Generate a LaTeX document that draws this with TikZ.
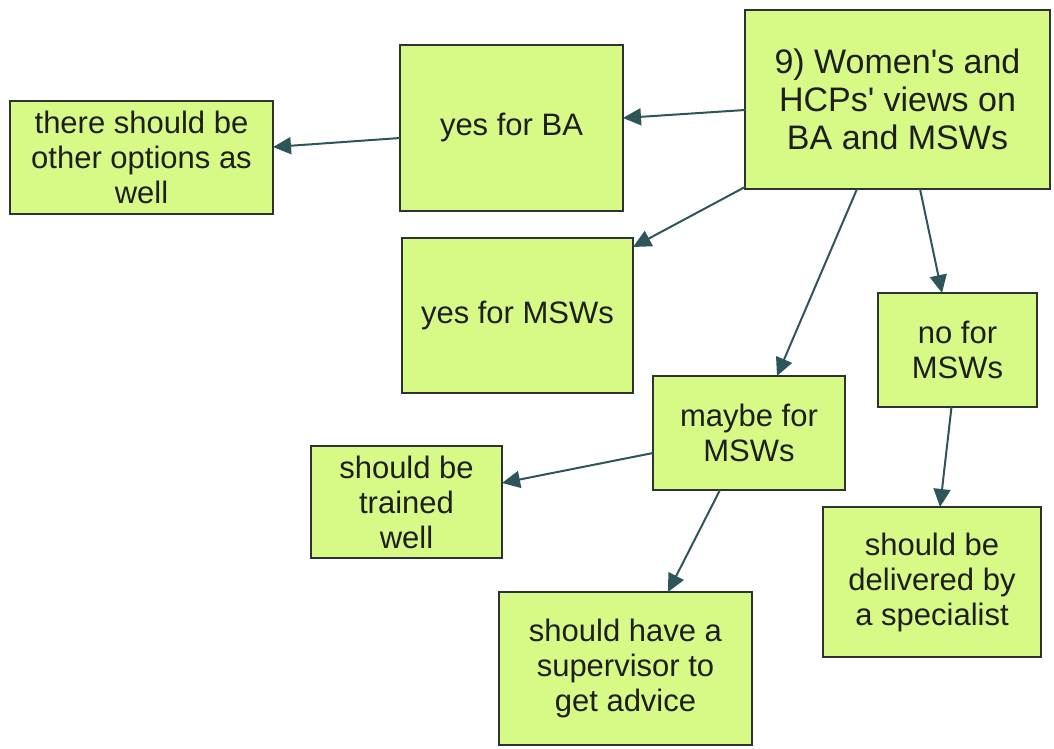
\documentclass[tikz,border=0pt]{standalone}
\usepackage{fontspec}
\setmainfont{Liberation Sans}
\usetikzlibrary{arrows.meta,positioning}
\definecolor{boxfill}{RGB}{215,250,135}
\definecolor{boxline}{RGB}{45,50,50}
\definecolor{linkcol}{RGB}{45,85,90}
\definecolor{txtcol}{RGB}{30,30,30}
\newcommand{\apo}{\textquotesingle}
\tikzset{
  box/.style={draw=boxline, fill=boxfill, line width=1.8pt, rectangle,
    align=center, inner sep=0pt, outer sep=0pt, text=txtcol,
    font=\fontsize{31}{35}\selectfont},
  rootbox/.style={box, font=\fontsize{34}{38}\selectfont},
  link/.style={draw=linkcol, line width=2pt,
    -{Triangle[length=18pt,width=17pt]}}
}
\begin{document}
\begin{tikzpicture}[x=1pt,y=-1pt]
\useasboundingbox (0,0) rectangle (1054,749);

% boxes
\node[rootbox, minimum width=305pt, minimum height=179pt] (root) at (897.5,99.5)
  {9) Women\apo s and\\HCPs\apo\ views on\\BA and MSWs};
\node[box, minimum width=223pt, minimum height=166pt] (yesba) at (511.5,128) {yes for BA};
\node[box, minimum width=263pt, minimum height=113pt] (other) at (141.5,157.5)
  {there should be\\other options as\\well};
\node[box, minimum width=231pt, minimum height=155pt] (yesmsw) at (517.5,315.5) {yes for MSWs};
\node[box, minimum width=159pt, minimum height=114pt] (nomsw) at (957.5,350) {no for\\MSWs};
\node[box, minimum width=192pt, minimum height=114pt] (maybe) at (749,433) {maybe for\\MSWs};
\node[box, minimum width=191pt, minimum height=112pt] (trained) at (406.5,502)
  {should be\\trained\\well};
\node[box, minimum width=218pt, minimum height=150pt] (special) at (932,582)
  {should be\\delivered by\\a specialist};
\node[box, minimum width=253pt, minimum height=153pt] (superv) at (625.5,668.5)
  {should have a\\supervisor to\\get advice};

% connectors
\draw[link] ([yshift=-10.5pt]root.west) -- ([yshift=10pt]yesba.east);
\draw[link] ([yshift=-10pt]yesba.west) -- ([yshift=10.5pt]other.east);
\draw[link] ([yshift=2pt]root.south west) -- ([yshift=-9pt]yesmsw.north east);
\draw[link] ([xshift=-40.5pt]root.south) -- ([xshift=28pt]maybe.north);
\draw[link] ([xshift=22.5pt]root.south) -- ([xshift=-15.5pt]nomsw.north);
\draw[link] ([yshift=-20pt]maybe.west) -- ([yshift=19pt]trained.east);
\draw[link] ([xshift=-29pt]maybe.south) -- ([xshift=42.5pt]superv.north);
\draw[link] ([xshift=-6pt]nomsw.south) -- ([xshift=8pt]special.north);
\end{tikzpicture}
\end{document}
